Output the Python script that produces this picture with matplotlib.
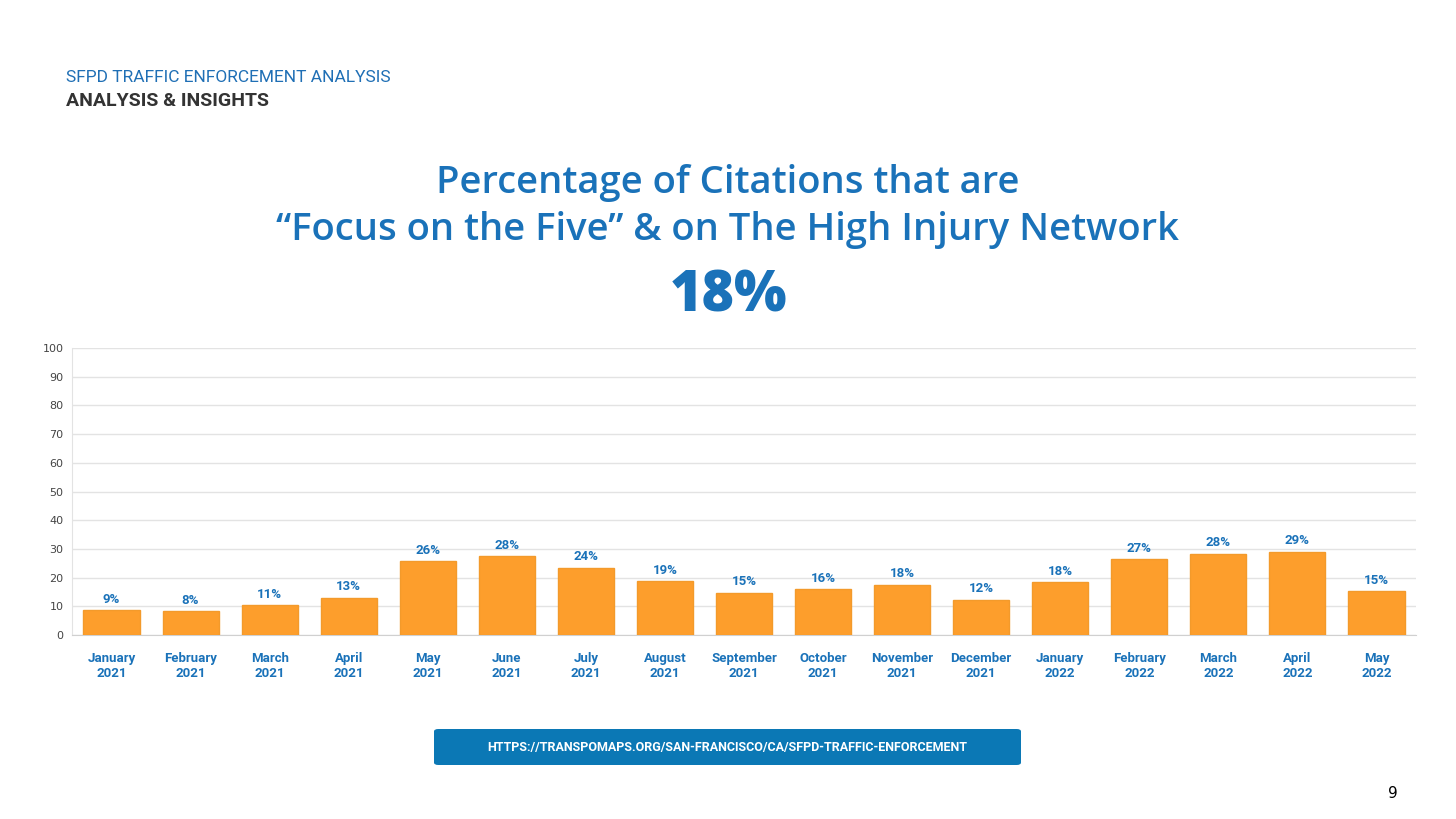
import matplotlib.pyplot as plt
from matplotlib.patches import FancyBboxPatch
import numpy as np

months = ["January\n2021", "February\n2021", "March\n2021", "April\n2021", "May\n2021",
          "June\n2021", "July\n2021", "August\n2021", "September\n2021", "October\n2021",
          "November\n2021", "December\n2021", "January\n2022", "February\n2022",
          "March\n2022", "April\n2022", "May\n2022"]
values = [8.7, 8.3, 10.5, 13.0, 25.7, 27.5, 23.5, 18.7, 14.8, 16.0, 17.5, 12.3,
          18.3, 26.5, 28.3, 29.0, 15.3]
labels = ["9%", "8%", "11%", "13%", "26%", "28%", "24%", "19%", "15%", "16%", "18%",
          "12%", "18%", "27%", "28%", "29%", "15%"]

blue = "#1a72b9"
orange = "#fd9e2c"

fig = plt.figure(figsize=(14.56, 8.19), dpi=100)
fig.text(66 / 1456, 1 - 77 / 819, "SFPD TRAFFIC ENFORCEMENT ANALYSIS", color="#1f6fb5",
         fontsize=12.5, family="Roboto", va="center")
fig.text(66 / 1456, 1 - 101 / 819, "ANALYSIS & INSIGHTS", color="#333333",
         fontsize=14, family="Roboto", weight="bold", va="center")
fig.text(0.5, 1 - 183 / 819, "Percentage of Citations that are", color=blue,
         fontsize=27.5, family="Open Sans", weight="semibold", ha="center", va="center")
fig.text(0.5, 1 - 230 / 819, "\u201cFocus on the Five\u201d & on The High Injury Network", color=blue,
         fontsize=27.5, family="Open Sans", weight="semibold", ha="center", va="center")
fig.text(0.5, 1 - 297 / 819, "18%", color=blue, fontsize=40, family="Open Sans",
         weight="heavy", ha="center", va="center")

ax = fig.add_axes([72 / 1456, 1 - 635 / 819, 1344 / 1456, 287 / 819])
x = np.arange(len(values))
ax.bar(x, values, width=0.71, color=orange, edgecolor="#f39a2b", zorder=3)
for xi, v, lab in zip(x, values, labels):
    ax.text(xi, v + 1.5, lab, ha="center", va="bottom", color=blue, fontsize=9.5,
            weight="bold", family="Roboto")
ax.set_xlim(-0.5, len(values) - 0.5)
ax.set_ylim(0, 100)
ax.set_yticks(range(0, 101, 10))
ax.tick_params(axis="y", labelsize=8, colors="#444444", length=0, pad=6)
ax.set_xticks(x)
ax.set_xticklabels(months, fontsize=9.5, color=blue, weight="bold", family="Roboto")
ax.tick_params(axis="x", length=0, pad=12)
ax.grid(axis="y", color="#e3e3e3", linewidth=1, zorder=0)
for s in ["top", "right"]:
    ax.spines[s].set_visible(False)
ax.spines["left"].set_color("#e3e3e3")
ax.spines["bottom"].set_color("#d0d0d0")

box = FancyBboxPatch((434 / 1456, 1 - 765 / 819), 587 / 1456, 36 / 819,
                     boxstyle="round,pad=0,rounding_size=0.003", transform=fig.transFigure,
                     facecolor="#0b78b5", edgecolor="none")
fig.add_artist(box)
fig.text(727 / 1456, 1 - 747 / 819, "HTTPS://TRANSPOMAPS.ORG/SAN-FRANCISCO/CA/SFPD-TRAFFIC-ENFORCEMENT",
         color="white", fontsize=9, weight="bold", family="Roboto", ha="center", va="center")
fig.text(1388 / 1456, 1 - 794 / 819, "9", fontsize=11, color="black", va="center")

fig.savefig("out.png", dpi=100)
